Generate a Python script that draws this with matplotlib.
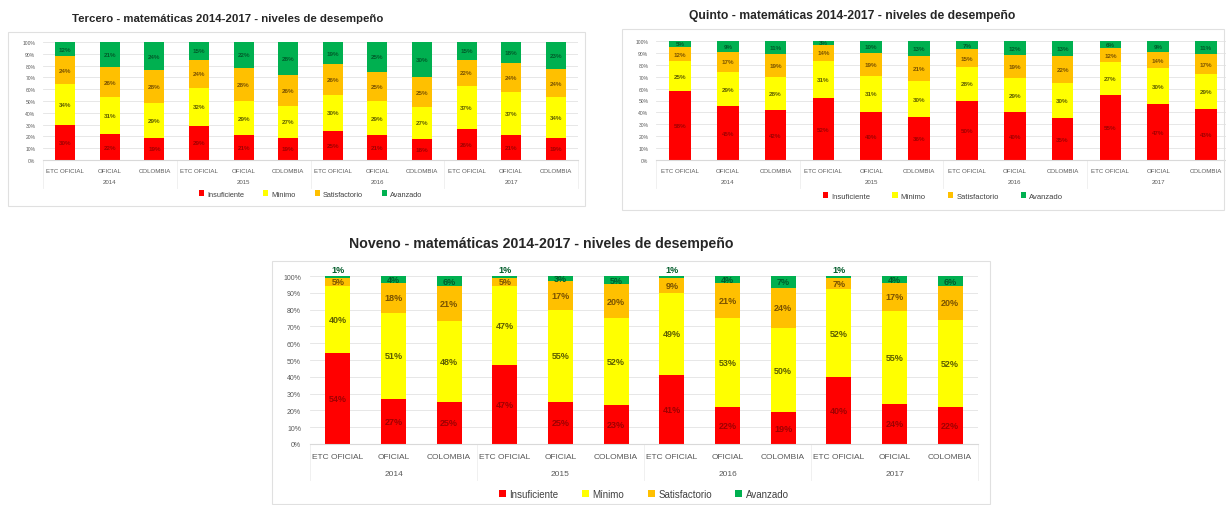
import matplotlib.pyplot as plt
from matplotlib.patches import Rectangle
from matplotlib.transforms import blended_transform_factory
import numpy as np

plt.rcParams['font.family'] = ['Liberation Sans', 'DejaVu Sans']

categorias = ['ETC OFICIAL', 'OFICIAL', 'COLOMBIA'] * 4
anios = ['2014', '2015', '2016', '2017']
niveles = ['Insuficiente', 'Mínimo', 'Satisfactorio', 'Avanzado']
colores = ['#FF0000', '#FFFF00', '#FFC000', '#00B050']
col_texto = ['#A00000', '#5E5E00', '#7A5200', '#005C2A']

tercero_insuf = [30, 22, 19, 29, 21, 19, 25, 21, 18, 26, 21, 19]
tercero_min = [34, 31, 29, 32, 29, 27, 30, 29, 27, 37, 37, 34]
tercero_sat = [24, 26, 28, 24, 28, 26, 26, 25, 25, 22, 24, 24]
tercero_av = [12, 21, 24, 15, 22, 28, 19, 25, 30, 15, 18, 23]

quinto_insuf = [58, 45, 42, 52, 40, 36, 50, 40, 35, 55, 47, 43]
quinto_min = [25, 29, 28, 31, 31, 30, 28, 29, 30, 27, 30, 29]
quinto_sat = [12, 17, 19, 14, 19, 21, 15, 19, 22, 12, 14, 17]
quinto_av = [5, 9, 11, 3, 10, 13, 7, 12, 13, 6, 9, 11]

noveno_insuf = [54, 27, 25, 47, 25, 23, 41, 22, 19, 40, 24, 22]
noveno_min = [40, 51, 48, 47, 55, 52, 49, 53, 50, 52, 55, 52]
noveno_sat = [5, 18, 21, 5, 17, 20, 9, 21, 24, 7, 17, 20]
noveno_av = [1, 4, 6, 1, 3, 5, 1, 4, 7, 1, 4, 6]

W, H = 1226, 506
fig = plt.figure(figsize=(W / 100, H / 100), dpi=100)


def rect_px(x0, y0, x1, y1):
    return [x0 / W, 1 - y1 / H, (x1 - x0) / W, (y1 - y0) / H]


def grafico(area, caja, titulo, pos_titulo, series, fs, offs):
    ax = fig.add_axes(rect_px(*area))
    alto = area[3] - area[1]
    x = np.arange(len(categorias))
    base = np.zeros(len(categorias))
    for serie, nombre, c, ct in zip(series, niveles, colores, col_texto):
        barras = ax.bar(x, serie, 0.45, bottom=base, color=c, label=nombre, zorder=2)
        # etiquetas muy pequeñas (<3%) van encima de la barra
        etiquetas = [f'{v}%' if v >= 3 else '' for v in serie]
        ax.bar_label(barras, labels=etiquetas, label_type='center',
                     fontsize=fs['seg'], color=ct, fontweight='bold')
        for xi, v, b in zip(x, serie, base):
            if v < 3:
                ax.annotate(f'{v}%', (xi, b + v), xytext=(0, 1.5), textcoords='offset points',
                            ha='center', va='bottom', fontsize=fs['seg'], color=ct,
                            fontweight='bold', annotation_clip=False)
        base += np.array(serie)
    ax.set_xlim(-0.5, 11.5)
    ax.set_ylim(0, 100)
    ax.set_yticks(range(0, 101, 10))
    ax.set_yticklabels([f'{v}%' for v in range(0, 101, 10)], fontsize=fs['tick'], color='#595959')
    ax.set_xticks(x)
    ax.set_xticklabels(categorias, fontsize=fs['cat'], color='#595959')
    ax.tick_params(length=0, pad=offs[0] * 0.5)
    ax.yaxis.grid(True, color='#E3E3E3', lw=0.6)
    ax.set_axisbelow(True)
    for s in ['top', 'right', 'left']:
        ax.spines[s].set_visible(False)
    ax.spines['bottom'].set_color('#D9D9D9')
    tr = blended_transform_factory(ax.transData, ax.transAxes)
    for i, a in enumerate(anios):
        ax.text(3 * i + 1, -offs[1] / alto, a, transform=tr, ha='center', va='center',
                fontsize=fs['cat'], color='#595959')
    for b in [-0.5, 2.5, 5.5, 8.5, 11.5]:
        ax.plot([b, b], [0, -(offs[1] + 6) / alto], transform=tr, clip_on=False,
                color='#EEEEEE', lw=0.6)
    ax.legend(ncol=4, loc='center', bbox_to_anchor=(0.5, -offs[2] / alto), frameon=False,
              fontsize=fs['leg'], handlelength=0.7, handleheight=0.7, handletextpad=0.4,
              columnspacing=fs['colsp'], labelcolor='#404040')
    fig.text(pos_titulo[0] / W, 1 - pos_titulo[1] / H, titulo, ha='center', va='center',
             fontweight='bold', fontsize=fs['tit'], color='#262626')
    fig.add_artist(Rectangle((caja[0] / W, 1 - caja[3] / H), (caja[2] - caja[0]) / W,
                             (caja[3] - caja[1]) / H, transform=fig.transFigure,
                             fill=False, edgecolor='#E0E0E0', lw=0.8))


fs_tl = {'seg': 4.5, 'tick': 3.6, 'cat': 4.4, 'leg': 5.3, 'tit': 8.2, 'colsp': 2.6}
fs_tr = {'seg': 4.5, 'tick': 3.6, 'cat': 4.4, 'leg': 5.5, 'tit': 8.7, 'colsp': 2.9}
fs_bot = {'seg': 6.5, 'tick': 5.0, 'cat': 6.0, 'leg': 7.0, 'tit': 10.2, 'colsp': 2.4}

grafico((43, 43, 578, 161), (8, 33, 585, 207),
        'Tercero - matemáticas 2014-2017 - niveles de desempeño', (228, 19),
        [tercero_insuf, tercero_min, tercero_sat, tercero_av], fs_tl, (11, 22, 34))
grafico((656, 42, 1230, 161), (622, 30, 1224, 211),
        'Quinto - matemáticas 2014-2017 - niveles de desempeño', (852, 16),
        [quinto_insuf, quinto_min, quinto_sat, quinto_av], fs_tr, (11, 22, 36))
grafico((310, 277, 978, 445), (272, 262, 990, 505),
        'Noveno - matemáticas 2014-2017 - niveles de desempeño', (541, 244),
        [noveno_insuf, noveno_min, noveno_sat, noveno_av], fs_bot, (13, 30, 50))

fig.savefig('out.png', dpi=100)
